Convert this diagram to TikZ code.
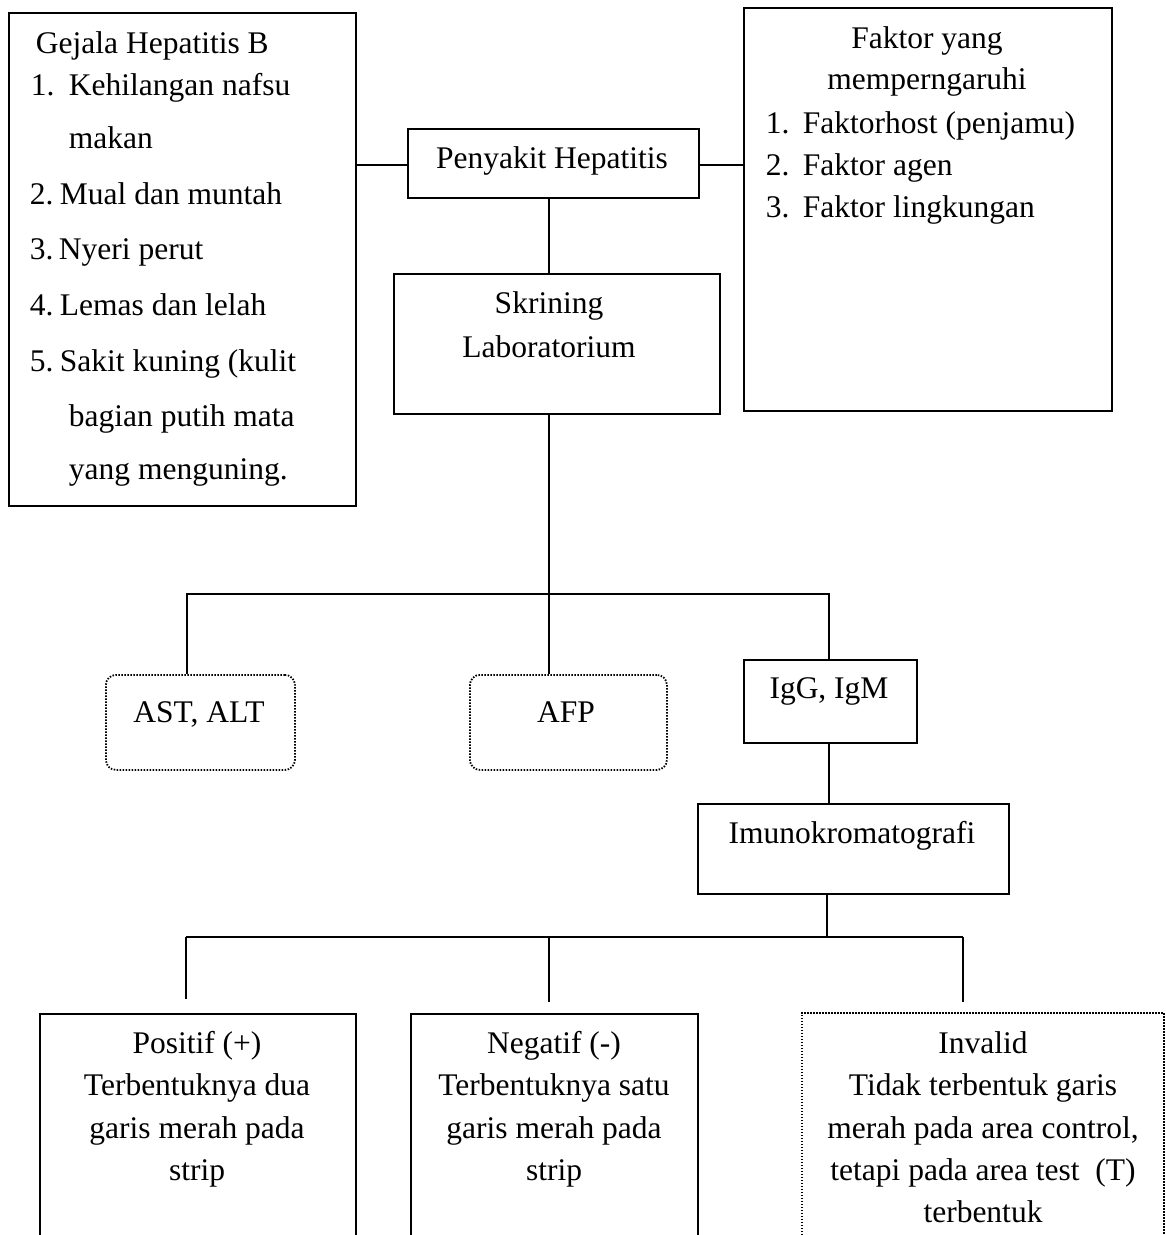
\documentclass[tikz,border=0pt]{standalone}
\usepackage{fontspec}
\setmainfont{Liberation Serif}
\begin{document}
\begin{tikzpicture}[x=1pt,y=-1pt,line width=1.9pt,
  font=\fontsize{31.5}{42}\selectfont,
  box/.style={draw,line width=1.9pt,inner sep=0pt,anchor=north west},
  dotbox/.style={draw,line width=1.8pt,dash pattern=on 1.5pt off 1.5pt,rounded corners=10pt,inner sep=0pt,anchor=north west},
  sqdot/.style={draw,line width=1.8pt,dash pattern=on 1.5pt off 1.5pt,inner sep=0pt,anchor=north west},
  txt/.style={inner sep=0pt,anchor=base west},
  ctxt/.style={inner sep=0pt,anchor=base}]
\useasboundingbox (0,0) rectangle (1166,1235);
\clip (0,0) rectangle (1166,1235);
% boxes
\node[box,minimum width=347pt,minimum height=493pt] (gej) at (8,12) {};
\node[box,minimum width=368pt,minimum height=403pt] (fak) at (743,7) {};
\node[box,minimum width=291pt,minimum height=69pt] (pen) at (407,128) {};
\node[box,minimum width=326pt,minimum height=140pt] (skr) at (393,273) {};
\node[dotbox,minimum width=189pt,minimum height=95pt] (ast) at (105,674) {};
\node[dotbox,minimum width=197pt,minimum height=95pt] (afp) at (469,674) {};
\node[box,minimum width=173pt,minimum height=83pt] (igg) at (743,659) {};
\node[box,minimum width=311pt,minimum height=90pt] (imu) at (697,803) {};
\node[box,minimum width=316pt,minimum height=300pt] (pos) at (39,1013) {};
\node[box,minimum width=287pt,minimum height=300pt] (neg) at (410,1013) {};
\node[sqdot,minimum width=362pt,minimum height=300pt] (inv) at (801,1012) {};
% texts: Gejala
\node[txt] (g0) at (35,53) {Gejala Hepatitis B};
\node[txt] (g1n) at (30,95) {1.};
\node[txt] (g1) at (68,95) {Kehilangan nafsu};
\node[txt] (g1b) at (68,148) {makan};
\node[txt] (g2n) at (29,204) {2.};
\node[txt] (g2) at (59,204) {Mual dan muntah};
\node[txt] (g3n) at (29,259) {3.};
\node[txt] (g3) at (58,259) {Nyeri perut};
\node[txt] (g4n) at (29,315) {4.};
\node[txt] (g4) at (59,315) {Lemas dan lelah};
\node[txt] (g5n) at (29,371) {5.};
\node[txt] (g5) at (59,371) {Sakit kuning (kulit};
\node[txt] (g5b) at (68,426) {bagian putih mata};
\node[txt] (g5c) at (68,479) {yang menguning.};
% texts: Faktor
\node[ctxt] (f0) at (927,48) {Faktor yang};
\node[ctxt] (f0b) at (927,89) {memperngaruhi};
\node[txt] (f1n) at (765,133) {1.};
\node[txt] (f1) at (802,133) {Faktorhost (penjamu)};
\node[txt] (f2n) at (765,175) {2.};
\node[txt] (f2) at (802,175) {Faktor agen};
\node[txt] (f3n) at (765,217) {3.};
\node[txt] (f3) at (802,217) {Faktor lingkungan};
% centre texts
\node[ctxt] (pt) at (552,168) {Penyakit Hepatitis};
\node[ctxt] (st1) at (549,313) {Skrining};
\node[ctxt] (st2) at (549,357) {Laboratorium};
\node[ctxt] (at) at (199,722) {AST, ALT};
\node[ctxt] (aft) at (566,722) {AFP};
\node[ctxt] (it) at (829,698) {IgG, IgM};
\node[ctxt] (mt) at (852,843) {Imunokromatografi};
% bottom texts
\node[ctxt] (p1) at (197,1053) {Positif (+)};
\node[ctxt] (p2) at (197,1095) {Terbentuknya dua};
\node[ctxt] (p3) at (197,1138) {garis merah pada};
\node[ctxt] (p4) at (197,1180) {strip};
\node[ctxt] (n1) at (554,1053) {Negatif (-)};
\node[ctxt] (n2) at (554,1095) {Terbentuknya satu};
\node[ctxt] (n3) at (554,1138) {garis merah pada};
\node[ctxt] (n4) at (554,1180) {strip};
\node[ctxt] (v1) at (983,1053) {Invalid};
\node[ctxt] (v2) at (983,1095) {Tidak terbentuk garis};
\node[ctxt] (v3) at (983,1138) {merah pada area control,};
\node[ctxt] (v4) at (983,1180) {tetapi pada area test\ \ (T)};
\node[ctxt] (v5) at (983,1222) {terbentuk};
% connectors
\coordinate (hy) at (0,165);
\draw (pen.west |- hy) -- (gej.east |- hy);
\draw (pen.east |- hy) -- (fak.west |- hy);
\coordinate (c1) at (549,594);
\coordinate (bl) at (187,594);
\coordinate (br) at (829,594);
\draw (pen.south -| c1) -- (skr.north -| c1);
\draw (skr.south -| c1) -- (afp.north -| c1);
\draw (ast.north -| bl) -- (bl) -- (br) -- (igg.north -| br);
\draw (igg.south -| br) -- (imu.north -| br);
\coordinate (c2) at (827,937);
\coordinate (bl2) at (186,937);
\coordinate (bm2) at (549,937);
\coordinate (br2) at (963,937);
\coordinate (e1) at (186,999);
\coordinate (e2) at (549,1002);
\coordinate (e3) at (963,1002);
\draw (imu.south -| c2) -- (c2);
\draw (bl2) -- (br2);
\draw (bl2) -- (e1);
\draw (bm2) -- (e2);
\draw (br2) -- (e3);
\end{tikzpicture}
\end{document}
